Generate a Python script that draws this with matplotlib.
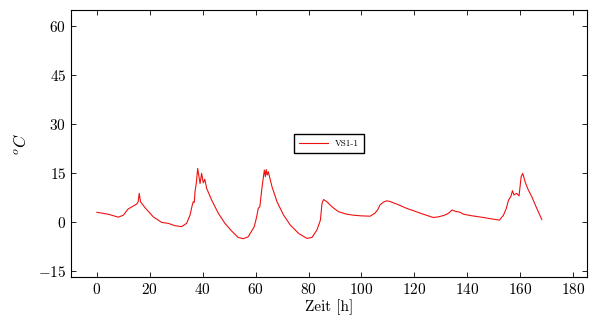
import matplotlib
matplotlib.use("Agg")
import matplotlib.pyplot as plt

# temperature curve
zeit = [0, 4.3, 8.1, 10, 11.8, 15, 15.6, 16, 16.5, 18.2, 21.3, 24.5, 27,
        29.5, 32, 33.9, 35.2, 36, 36.4, 36.8, 37.1, 37.6, 38.1, 39, 39.6,
        40.2, 40.8, 41.5, 43.4, 45.9, 48.4, 50.9, 53.4, 55.3, 57.2, 59.5,
        60.4, 61, 61.6, 62.3, 63.3, 63.7, 64, 64.4, 64.8, 66.2, 68.1, 70.6,
        73.1, 76.3, 79.4, 81.3, 83.2, 84.5, 85.1, 85.7, 87, 89, 91.3, 94,
        97, 100, 103.3, 105.1, 106.2, 107, 108.3, 109.6, 110.8, 114, 117.1,
        120.3, 123.4, 127.2, 129.1, 131, 132.3, 133.4, 134.2, 135.5, 137.3,
        138.6, 142, 146.1, 149, 152.2, 153.7, 154.8, 155.6, 156.5, 157.1,
        157.7, 158.7, 159.6, 160.4, 161, 161.9, 163, 164.4, 166.3, 168.2]
temp = [3.0, 2.4, 1.5, 2.1, 4.0, 5.5, 6.2, 8.8, 6.2, 4.4, 1.6, -0.1, -0.4,
        -1.1, -1.4, -0.4, 2.1, 5.0, 6.2, 6.0, 9.3, 12.0, 16.4, 11.8, 14.9,
        12.0, 13.1, 10.3, 6.7, 2.7, -0.4, -2.7, -4.7, -5.1, -4.5, -1.4,
        1.6, 4.2, 4.7, 9.8, 15.9, 13.9, 16.1, 14.4, 15.4, 10.8, 6.2, 2.1,
        -0.9, -3.5, -5.0, -4.7, -2.4, 0.6, 5.7, 6.9, 6.2, 4.6, 3.2, 2.5,
        2.1, 1.9, 1.8, 2.7, 3.8, 5.2, 6.1, 6.5, 6.3, 5.3, 4.2,
        3.3, 2.4, 1.4, 1.6, 2.0, 2.4, 3.0, 3.7, 3.3, 3.0,
        2.4, 1.9, 1.4, 1.0, 0.6, 2.1, 4.2, 6.7, 7.8, 9.6,
        8.3, 8.8, 8.0, 13.9, 14.9, 12.3, 10.0, 7.8, 4.2, 0.8]

xticks = [0, 20, 40, 60, 80, 100, 120, 140, 160, 180]
yticks = [-15, 0, 15, 30, 45, 60]

plt.rcParams['font.family'] = 'serif'
plt.rcParams['font.serif'] = ['cmr10']
plt.rcParams['mathtext.fontset'] = 'cm'
plt.rcParams['axes.formatter.use_mathtext'] = True
plt.rcParams['axes.unicode_minus'] = True

fig = plt.figure(figsize=(5.99, 3.27), dpi=100)
ax = fig.add_axes([0.1185, 0.153, 0.8615, 0.8164])

ax.plot(zeit, temp, color='#ee1111', linewidth=0.8, label='VS1-1')

ax.set_xlim(-9.8, 185.3)
ax.set_ylim(-16.8, 64.9)
ax.set_xticks(xticks)
ax.set_yticks(yticks)
ax.set_xticklabels(['$%d$' % v for v in xticks])
ax.set_yticklabels(['$%d$' % v for v in yticks])
ax.tick_params(direction='in', top=True, right=True, length=3.5,
               width=0.6, labelsize=11, colors='black')
for s in ax.spines.values():
    s.set_linewidth(0.8)

ax.set_xlabel('Zeit [h]', fontsize=11, labelpad=2)
ax.set_ylabel('$^oC$', fontsize=12, labelpad=6)

ax.legend(loc='center', fontsize=6.5, frameon=True, fancybox=False,
          edgecolor='black', framealpha=1, handlelength=3.2,
          borderpad=0.6, handletextpad=0.8)

fig.savefig('out.png', dpi=100)
